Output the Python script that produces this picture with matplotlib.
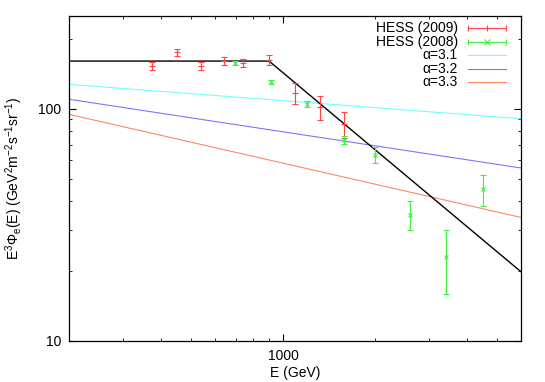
import matplotlib
matplotlib.use("Agg")
import matplotlib.pyplot as plt
from matplotlib.ticker import LogLocator, NullFormatter, FixedLocator, FixedFormatter
import numpy as np

plt.rcParams['font.family'] = ['Liberation Sans', 'DejaVu Sans']
plt.rcParams['mathtext.default'] = 'regular'

# HESS (2009)
e_2009 = [373, 450, 541, 640, 738, 900, 1096, 1318, 1582]
f_2009 = [152.8, 174.5, 152.8, 160.6, 156.9, 161.2, 117.0, 101.2, 85.5]
err_2009 = [6.0, 6.3, 6.0, 6.1, 6.0, 8.0, 12.0, 12.0, 11.0]

# HESS (2008)
e_2008 = [699, 910, 1198, 1582, 2004, 2600, 3402, 4494]
f_2008 = [156.9, 130.0, 104.6, 73.2, 63.1, 34.9, 23.0, 45.0]
err_2008 = [2.5, 3.0, 3.0, 3.0, 5.0, 5.0, 7.0, 7.0]

# power laws E^3 * E^-alpha, normalised at 1000 GeV
alphas = [3.1, 3.2, 3.3]
norm_1000 = [108.1, 79.4, 58.2]
alpha_colors = ['#70ffff', '#7777ff', '#ff8866']

# broken power law (black)
flat_level = 160.0
e_break = 900.0
slope_high = -1.1

xmin, xmax = 200, 6000
ymin, ymax = 10, 250

c_2009 = '#ff4444'
c_2008 = '#44ee44'

fig = plt.figure(figsize=(5.45, 3.82), dpi=100)
ax = fig.add_axes([69.3/545, 1 - 341/382, (521 - 69.3)/545, (341 - 16)/382])

E = np.logspace(np.log10(xmin), np.log10(xmax), 400)
for a, n, c in zip(alphas, norm_1000, alpha_colors):
    ax.plot(E, n * (E / 1000.0) ** (3 - a), color=c, lw=0.8)

bpl = np.where(E < e_break, flat_level, flat_level * (E / e_break) ** slope_high)
ax.plot(E, bpl, color='black', lw=1.0)

ax.errorbar(e_2009, f_2009, yerr=err_2009, fmt='+', color=c_2009, ms=4,
            mew=0.8, elinewidth=0.8, capsize=2, capthick=0.8)
ax.errorbar(e_2008, f_2008, yerr=err_2008, fmt='x', color=c_2008, ms=3.5,
            mew=0.8, elinewidth=0.8, capsize=2, capthick=0.8)

ax.set_xscale('log')
ax.set_yscale('log')
ax.set_xlim(xmin, xmax)
ax.set_ylim(ymin, ymax)

ax.xaxis.set_major_locator(FixedLocator([1000]))
ax.xaxis.set_major_formatter(FixedFormatter(['1000']))
ax.xaxis.set_minor_locator(LogLocator(base=10, subs=np.arange(2, 10)))
ax.xaxis.set_minor_formatter(NullFormatter())
ax.yaxis.set_major_locator(FixedLocator([10, 100]))
ax.yaxis.set_major_formatter(FixedFormatter(['10', '100']))
ax.yaxis.set_minor_locator(LogLocator(base=10, subs=np.arange(2, 10)))
ax.yaxis.set_minor_formatter(NullFormatter())

ax.tick_params(which='both', direction='in', top=True, right=True, labelsize=10)
ax.tick_params(which='major', length=5, width=0.8, pad=6)
ax.tick_params(which='minor', length=2.5, width=0.6)
for s in ax.spines.values():
    s.set_linewidth(0.9)

ax.set_xlabel('E (GeV)', fontsize=10, labelpad=2)
ax.set_ylabel('E$^3$Φ$_e$(E) (GeV$^2$m$^{-2}$s$^{-1}$sr$^{-1}$)', fontsize=10, labelpad=9)

# legend drawn in gnuplot style: text right-aligned, sample on the right
labels = ['HESS (2009)', 'HESS (2008)', 'α=3.1', 'α=3.2', 'α=3.3']
rows = [0.962, 0.921, 0.880, 0.838, 0.797]
tx, s0, s1 = 0.8605, 0.882, 0.966
for lab, y in zip(labels, rows):
    ax.text(tx, y, lab, transform=ax.transAxes, ha='right', va='center', fontsize=10)

for i, c in enumerate([c_2009, c_2008]):
    y = rows[i]
    ax.plot([s0, s1], [y, y], color=c, lw=0.8, transform=ax.transAxes, clip_on=False)
    ax.plot([s0, s1], [y, y], ls='none', marker='|', ms=5, mew=0.8, color=c,
            transform=ax.transAxes, clip_on=False)
    ax.plot([(s0 + s1) / 2], [y], ls='none', marker='+' if i == 0 else 'x',
            ms=4, mew=0.8, color=c, transform=ax.transAxes, clip_on=False)
for j, c in enumerate(alpha_colors):
    y = rows[2 + j]
    ax.plot([s0, s1], [y, y], color=c, lw=0.8, transform=ax.transAxes, clip_on=False)

fig.savefig('out.png', dpi=100)
